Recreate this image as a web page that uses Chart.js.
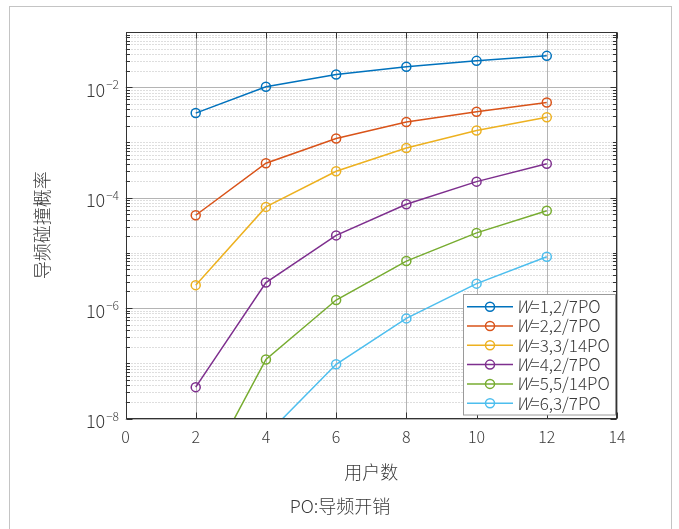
<!DOCTYPE html>
<html>
<head>
<meta charset="utf-8">
<script src="https://cdn.jsdelivr.net/npm/chart.js@4.4.1/dist/chart.umd.min.js"></script>
<style>
  html, body { margin: 0; padding: 0; background: #fff; }
  canvas { display: block; }
</style>
</head>
<body>
<canvas id="chart" width="679" height="529"></canvas>
<script>
// data
const users = [2, 4, 6, 8, 10, 12];
const labels = ['W=1,2/7PO', 'W=2,2/7PO', 'W=3,3/14PO', 'W=4,2/7PO', 'W=5,5/14PO', 'W=6,3/7PO'];
const w1 = [3.4e-3, 1.02e-2, 1.7e-2, 2.35e-2, 3.0e-2, 3.7e-2];
const w2 = [4.8e-5, 4.2e-4, 1.18e-3, 2.34e-3, 3.6e-3, 5.3e-3];
const w3 = [2.6e-6, 6.8e-5, 3.0e-4, 7.9e-4, 1.65e-3, 2.85e-3];
const w4 = [3.7e-8, 2.9e-6, 2.07e-5, 7.6e-5, 1.95e-4, 4.1e-4];
const w5 = [4.9e-10, 1.17e-7, 1.4e-6, 7.1e-6, 2.3e-5, 5.8e-5];
const w6 = [null, 4.9e-9, 9.6e-8, 6.5e-7, 2.77e-6, 8.5e-6];
const colors = ['#0072BD', '#D95319', '#EDB120', '#7E2F8E', '#77AC30', '#4DBEEE'];
const yLabelExps = [-8, -6, -4, -2];

const FONT = "'Noto Sans CJK SC', 'Noto Sans', sans-serif";
const TEXT = '#3a3a3a';

const allSeries = [w1, w2, w3, w4, w5, w6];

// frame, grid, ticks, legend and caption in the MATLAB look
const matlabLook = {
  id: 'matlabLook',
  beforeDraw(chart) {
    const ctx = chart.ctx;
    ctx.save();
    ctx.fillStyle = '#fff';
    ctx.fillRect(0, 0, chart.width, chart.height);
    ctx.strokeStyle = '#c4c4c4';
    ctx.lineWidth = 1;
    ctx.strokeRect(9.5, 6.5, 662, 540);
    ctx.restore();
  },
  beforeDatasetsDraw(chart) {
    const {ctx, chartArea: a, scales: {x, y}} = chart;
    ctx.save();
    ctx.lineWidth = 1;
    // minor dotted grid
    ctx.strokeStyle = '#bdbdbd';
    ctx.setLineDash([1, 2]);
    for (let e = -8; e < -1; e++) {
      for (let m = 1; m <= 9; m++) {
        if (m === 1 && e % 2 === 0) continue;
        const py = Math.round(y.getPixelForValue(m * Math.pow(10, e))) + 0.5;
        ctx.beginPath(); ctx.moveTo(a.left, py); ctx.lineTo(a.right, py); ctx.stroke();
      }
    }
    // major grid
    ctx.setLineDash([]);
    ctx.strokeStyle = '#b4b4b4';
    yLabelExps.forEach(e => {
      const py = Math.round(y.getPixelForValue(Math.pow(10, e))) + 0.5;
      ctx.beginPath(); ctx.moveTo(a.left, py); ctx.lineTo(a.right, py); ctx.stroke();
    });
    x.ticks.forEach(t => {
      const px = Math.round(x.getPixelForValue(t.value)) + 0.5;
      ctx.beginPath(); ctx.moveTo(px, a.top); ctx.lineTo(px, a.bottom); ctx.stroke();
    });
    ctx.restore();
  },
  afterDatasetsDraw(chart) {
    const {ctx, chartArea: a, scales: {x, y}} = chart;
    ctx.save();
    const L = Math.round(a.left) + 0.5, R = Math.round(a.right) - 0.5;
    const T = Math.round(a.top) + 0.5, B = Math.round(a.bottom) - 0.5;
    ctx.strokeStyle = '#333';
    ctx.lineWidth = 1;
    // tick marks inside the box
    ctx.beginPath();
    for (let e = -8; e < -1; e++) {
      for (let m = 1; m <= 9; m++) {
        const py = Math.round(y.getPixelForValue(m * Math.pow(10, e))) + 0.5;
        const len = (m === 1 && e % 2 === 0) ? 6 : 3.5;
        ctx.moveTo(L, py); ctx.lineTo(L + len, py);
        ctx.moveTo(R, py); ctx.lineTo(R - len, py);
      }
    }
    x.ticks.forEach(t => {
      const px = Math.round(x.getPixelForValue(t.value)) + 0.5;
      ctx.moveTo(px, B); ctx.lineTo(px, B - 6);
      ctx.moveTo(px, T); ctx.lineTo(px, T + 6);
    });
    ctx.stroke();
    ctx.strokeRect(L, T, R - L, B - T);

    // y tick labels 10^n
    ctx.fillStyle = TEXT;
    ctx.textBaseline = 'alphabetic';
    yLabelExps.forEach(e => {
      const py = y.getPixelForValue(Math.pow(10, e));
      const sup = '\u2212' + Math.abs(e);
      ctx.font = '300 12px ' + FONT;
      const sw = ctx.measureText(sup).width;
      ctx.textAlign = 'left';
      ctx.fillText(sup, 119 - sw, py + 2);
      ctx.font = '300 18px ' + FONT;
      ctx.textAlign = 'right';
      ctx.fillText('10', 118 - sw, py + 9.5);
    });

    // legend
    const lx = 463.5, ly = 294.5, lw = 152, lh = 120.5, row = 19.3;
    ctx.fillStyle = '#fff';
    ctx.fillRect(lx, ly, lw, lh);
    ctx.strokeStyle = '#9a9a9a';
    ctx.strokeRect(lx, ly, lw, lh);
    chart.data.datasets.forEach((ds, i) => {
      const cy = 306.7 + i * row;
      ctx.strokeStyle = ds.borderColor;
      ctx.lineWidth = 1.5;
      ctx.beginPath(); ctx.moveTo(467, cy); ctx.lineTo(513, cy); ctx.stroke();
      ctx.beginPath(); ctx.arc(490, cy, 4.5, 0, Math.PI * 2); ctx.stroke();
      ctx.fillStyle = TEXT;
      ctx.textAlign = 'left';
      ctx.textBaseline = 'middle';
      ctx.font = 'italic 300 17px ' + FONT;
      ctx.fillText(ds.label[0], 516, cy);
      const ww = ctx.measureText(ds.label[0]).width;
      ctx.font = '300 17px ' + FONT;
      ctx.fillText(ds.label.slice(1), 516 + ww, cy);
    });

    // caption
    ctx.fillStyle = TEXT;
    ctx.textAlign = 'center';
    ctx.textBaseline = 'middle';
    ctx.font = '300 18px ' + FONT;
    ctx.fillText('PO:导频开销', 340, 506);
    ctx.restore();
  }
};

new Chart(document.getElementById('chart'), {
  type: 'line',
  data: {
    datasets: allSeries.map((s, i) => ({
      label: labels[i],
      data: users.map((u, j) => ({x: u, y: s[j]})),
      borderColor: colors[i],
      borderWidth: 1.5,
      pointRadius: 4.5,
      pointBorderWidth: 1.5,
      pointBackgroundColor: 'rgba(0,0,0,0)',
      pointBorderColor: colors[i],
      tension: 0,
      spanGaps: false
    }))
  },
  options: {
    responsive: false,
    animation: false,
    devicePixelRatio: 1,
    layout: { padding: { top: 32, right: 62, left: 0, bottom: 0 } },
    plugins: { legend: { display: false }, tooltip: { enabled: false } },
    scales: {
      x: {
        type: 'linear', min: 0, max: 14,
        grid: { display: false, drawTicks: false },
        border: { display: false },
        ticks: { stepSize: 2, padding: 9, maxRotation: 0, color: TEXT, font: { family: FONT, size: 16, weight: 300 } },
        title: { display: true, text: '用户数', color: TEXT, font: { family: FONT, size: 18, weight: 300 }, padding: { top: 0, bottom: 46 } },
        afterFit: s => { s.height = 110.5; }
      },
      y: {
        type: 'logarithmic', min: 1e-8, max: 1e-1,
        grid: { display: false, drawTicks: false },
        border: { display: false },
        ticks: { display: false },
        title: { display: true, text: '导频碰撞概率', color: TEXT, font: { family: FONT, size: 18, weight: 300 }, padding: { top: 31, bottom: 0 } },
        afterFit: s => { s.width = 125.5; }
      }
    }
  },
  plugins: [matlabLook]
});
</script>
</body>
</html>
